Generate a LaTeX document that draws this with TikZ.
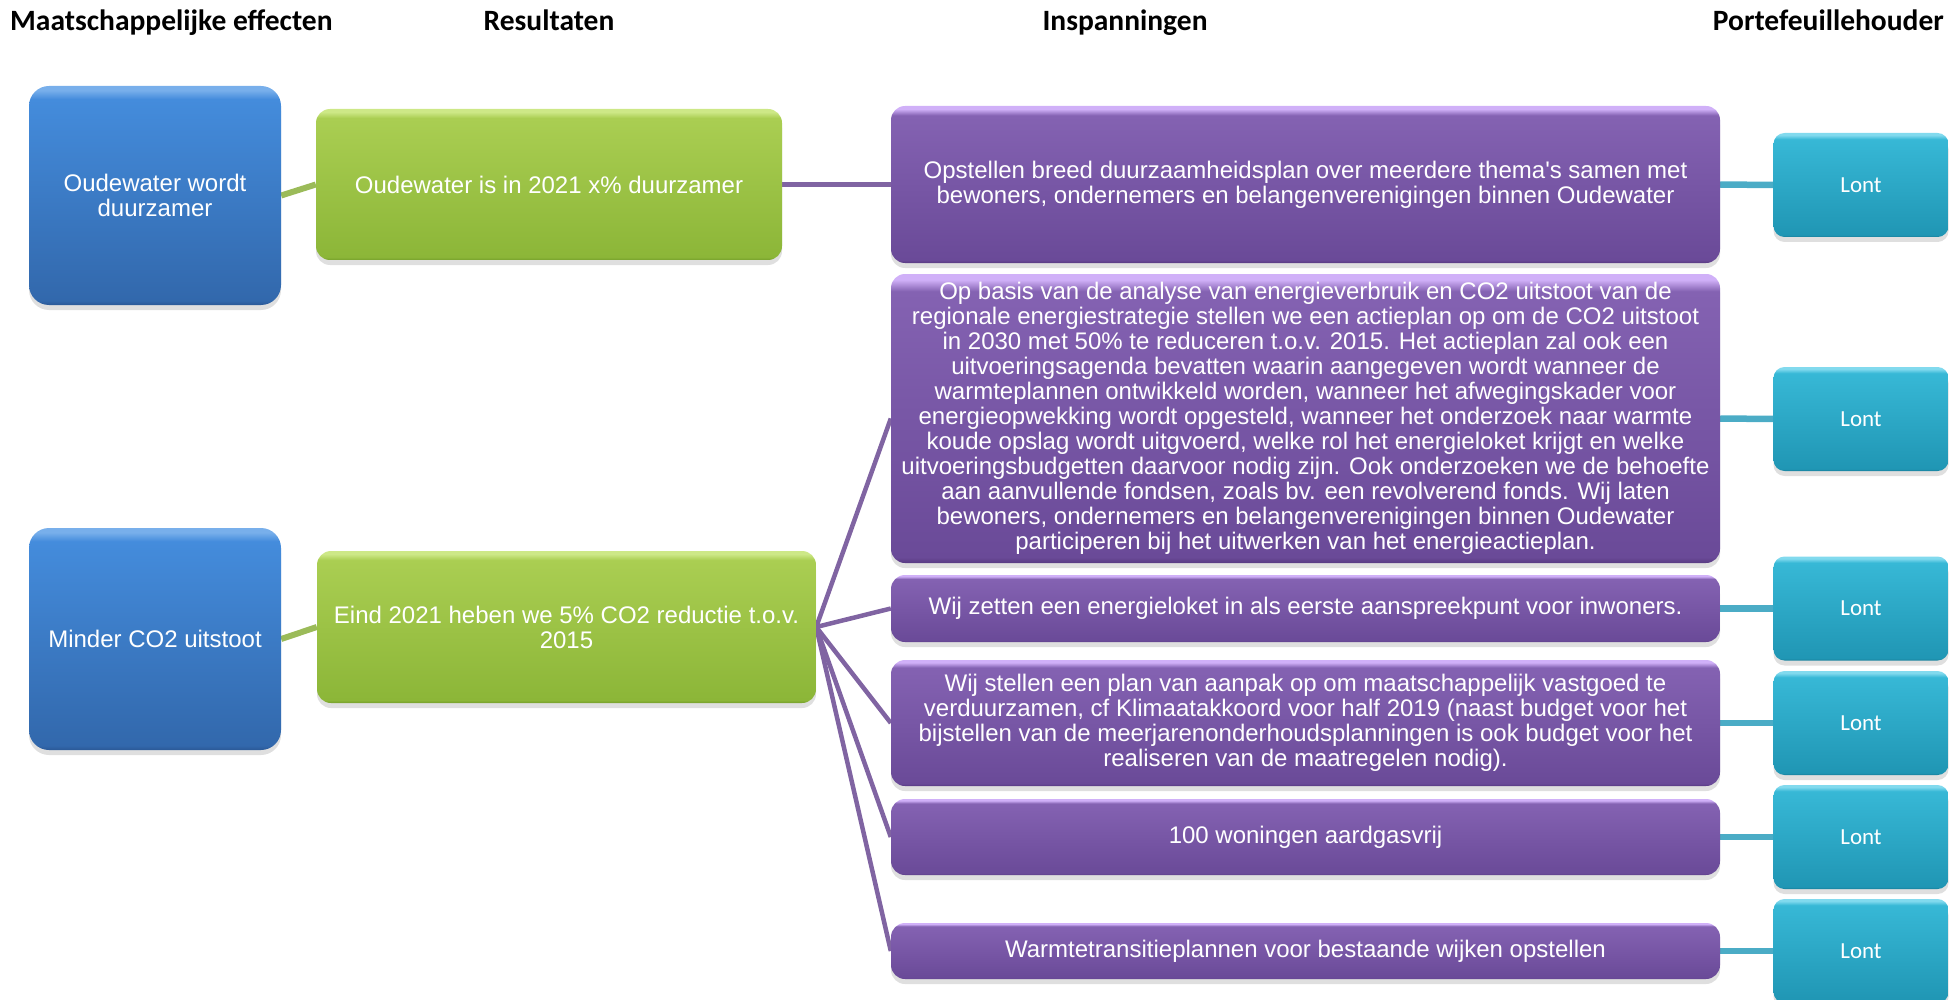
\documentclass[tikz,border=0pt]{standalone}
\usepackage{fontspec}
\setmainfont{Liberation Sans}
\newfontfamily\hdrfont{Carlito}
\usetikzlibrary{shadows}

\definecolor{bluehi}{RGB}{120,175,235}
\definecolor{bluetop}{RGB}{68,140,220}
\definecolor{bluebot}{RGB}{50,104,172}
\definecolor{blueedge}{RGB}{42,88,150}
\definecolor{greenhi}{RGB}{205,232,135}
\definecolor{greentop}{RGB}{170,206,82}
\definecolor{greenbot}{RGB}{140,182,56}
\definecolor{greenedge}{RGB}{118,160,44}
\definecolor{purphi}{RGB}{208,176,248}
\definecolor{purptop}{RGB}{132,98,178}
\definecolor{purpbot}{RGB}{106,74,152}
\definecolor{purpedge}{RGB}{88,58,130}
\definecolor{cyanhi}{RGB}{130,218,238}
\definecolor{cyantop}{RGB}{55,184,214}
\definecolor{cyanbot}{RGB}{32,150,180}
\definecolor{cyanedge}{RGB}{22,125,152}
\definecolor{greenline}{RGB}{155,187,89}
\definecolor{purpline}{RGB}{128,100,162}
\definecolor{cyanline}{RGB}{75,172,198}

\pgfdeclareverticalshading{blueshade}{100bp}{color(0bp)=(blueedge); color(25bp)=(blueedge); color(26bp)=(bluebot); color(72bp)=(bluetop); color(74bp)=(bluehi); color(100bp)=(bluehi)}
\pgfdeclareverticalshading{greenshade}{100bp}{color(0bp)=(greenedge); color(25bp)=(greenedge); color(26bp)=(greenbot); color(72bp)=(greentop); color(74bp)=(greenhi); color(100bp)=(greenhi)}
\pgfdeclareverticalshading{purpshade}{100bp}{color(0bp)=(purpedge); color(25bp)=(purpedge); color(26bp)=(purpbot); color(72bp)=(purptop); color(74bp)=(purphi); color(100bp)=(purphi)}
\pgfdeclareverticalshading{cyanshade}{100bp}{color(0bp)=(cyanedge); color(25bp)=(cyanedge); color(26bp)=(cyanbot); color(72bp)=(cyantop); color(74bp)=(cyanhi); color(100bp)=(cyanhi)}

\pgfdeclarelayer{bg}
\pgfsetlayers{bg,main}

\tikzset{
  box/.style={rounded corners=14pt, text=white, align=center, inner sep=0pt,
    font=\fontsize{24}{25}\selectfont,
    drop shadow={shadow xshift=0pt, shadow yshift=-5pt, opacity=0.25}},
  bluebox/.style={box, shading=blueshade, rounded corners=20pt, minimum width=252pt},
  greenbox/.style={box, shading=greenshade},
  purpbox/.style={box, shading=purpshade, minimum width=829pt},
  cyanbox/.style={box, shading=cyanshade, rounded corners=11pt, minimum width=175pt, minimum height=104pt, font=\hdrfont\fontsize{23}{26}\selectfont},
  hdr/.style={font=\hdrfont\bfseries\fontsize{29.5}{33}\selectfont, inner sep=0pt},
  gline/.style={line width=6pt, draw=greenline},
  pline/.style={line width=4.5pt, draw=purpline},
  cline/.style={line width=6.5pt, draw=cyanline}
}

\begin{document}
\begin{tikzpicture}[x=1pt, y=-1pt]
\useasboundingbox (0,0) rectangle (1950,1000);

% headers
\node[hdr, anchor=base west] (h1) at (10,31) {Maatschappelijke effecten};
\node[hdr, anchor=base] (h2) at (549,31) {Resultaten};
\node[hdr, anchor=base] (h3) at (1125,31) {Inspanningen};
\node[hdr, anchor=base east] (h4) at (1944,31) {Portefeuillehouder};

% effects
\node[bluebox, minimum height=219pt] (b1) at (155,195.5) {Oudewater wordt\\duurzamer};
\node[bluebox, minimum height=222pt] (b2) at (155,639) {Minder CO2 uitstoot};

% results
\node[greenbox, minimum width=466pt, minimum height=151pt] (g1) at (549,184.5) {Oudewater is in 2021 x\% duurzamer};
\node[greenbox, minimum width=499pt, minimum height=152pt] (g2) at (566.5,627) {Eind 2021 heben we 5\% CO2 reductie t.o.v.\\2015};

% efforts
\node[purpbox, minimum height=157pt] (p1) at (1305.5,184.5) {Opstellen breed duurzaamheidsplan over meerdere thema\textquotesingle s samen met\\bewoners, ondernemers en belangenverenigingen binnen Oudewater};
\node[purpbox, minimum height=289pt] (p2) at (1305.5,418.5) {Op basis van de analyse van energieverbruik en CO2 uitstoot van de\\regionale energiestrategie stellen we een actieplan op om de CO2 uitstoot\\in 2030 met 50\% te reduceren t.o.v. 2015. Het actieplan zal ook een\\uitvoeringsagenda bevatten waarin aangegeven wordt wanneer de\\warmteplannen ontwikkeld worden, wanneer het afwegingskader voor\\energieopwekking wordt opgesteld, wanneer het onderzoek naar warmte\\koude opslag wordt uitgvoerd, welke rol het energieloket krijgt en welke\\uitvoeringsbudgetten daarvoor nodig zijn. Ook onderzoeken we de behoefte\\aan aanvullende fondsen, zoals bv. een revolverend fonds. Wij laten\\bewoners, ondernemers en belangenverenigingen binnen Oudewater\\participeren bij het uitwerken van het energieactieplan.};
\node[purpbox, minimum height=67pt] (p3) at (1305.5,608.5) {Wij zetten een energieloket in als eerste aanspreekpunt voor inwoners.};
\node[purpbox, minimum height=126pt] (p4) at (1305.5,723) {Wij stellen een plan van aanpak op om maatschappelijk vastgoed te\\verduurzamen, cf Klimaatakkoord voor half 2019 (naast budget voor het\\bijstellen van de meerjarenonderhoudsplanningen is ook budget voor het\\realiseren van de maatregelen nodig).};
\node[purpbox, minimum height=76pt] (p5) at (1305.5,837) {100 woningen aardgasvrij};
\node[purpbox, minimum height=56pt] (p6) at (1305.5,951) {Warmtetransitieplannen voor bestaande wijken opstellen};

% portfolio holders
\node[cyanbox] (c1) at (1861,185) {Lont};
\node[cyanbox] (c2) at (1861,419) {Lont};
\node[cyanbox] (c3) at (1861,608.5) {Lont};
\node[cyanbox] (c4) at (1861,723) {Lont};
\node[cyanbox] (c5) at (1861,837) {Lont};
\node[cyanbox] (c6) at (1861,951) {Lont};

\begin{pgfonlayer}{bg}
\draw[gline] (b1.east) -- (g1.west);
\draw[gline] (b2.east) -- (g2.west);
\draw[pline] (g1.east) -- (p1.west);
\draw[pline] (g2.east) -- (p2.west);
\draw[pline] (g2.east) -- (p3.west);
\draw[pline] (g2.east) -- (p4.west);
\draw[pline] (g2.east) -- (p5.west);
\draw[pline] (g2.east) -- (p6.west);
\draw[cline] (p1.east) -- (c1.west);
\draw[cline] (p2.east) -- (c2.west);
\draw[cline] (p3.east) -- (c3.west);
\draw[cline] (p4.east) -- (c4.west);
\draw[cline] (p5.east) -- (c5.west);
\draw[cline] (p6.east) -- (c6.west);
\end{pgfonlayer}
\end{tikzpicture}
\end{document}
